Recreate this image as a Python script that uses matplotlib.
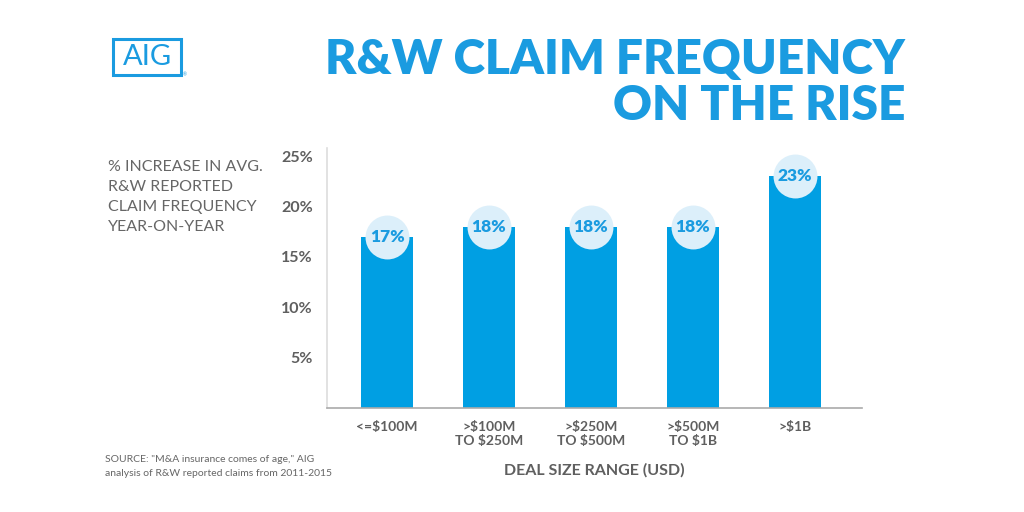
import matplotlib.pyplot as plt
from matplotlib.patches import Rectangle

plt.rcParams['font.family'] = ['Lato', 'DejaVu Sans']

categories = ['<=$100M', '>$100M\nTO $250M', '>$250M\nTO $500M', '>$500M\nTO $1B', '>$1B']
values = [17, 18, 18, 18, 23]
labels = ['17%', '18%', '18%', '18%', '23%']
yticks = [5, 10, 15, 20, 25]
ytick_labels = ['5%', '10%', '15%', '20%', '25%']

blue = '#009fe3'
title_blue = '#1a9be0'
light = '#dceffa'
gray = '#5f5f5f'

fig = plt.figure(figsize=(10.24, 5.12), dpi=100)
ax = fig.add_axes([0.3193, 0.2031, 0.5225, 0.5078])

x = list(range(len(categories)))
ax.bar(x, values, width=0.51, color=blue, zorder=2)

# circular value badges at bar tops
for xi, v, lab in zip(x, values, labels):
    ax.scatter([xi], [v], s=1000, color=light, zorder=3, linewidths=0, clip_on=False)
    ax.text(xi, v, lab, ha='center', va='center', fontsize=12.5,
            fontweight='heavy', color=title_blue, zorder=4)

ax.set_xlim(-0.59, 4.66)
ax.set_ylim(0, 25.8)
ax.set_yticks(yticks)
ax.set_yticklabels(ytick_labels)
ax.set_xticks(x)
ax.set_xticklabels(categories, linespacing=1.2)
ax.tick_params(length=0)
ax.tick_params(axis='y', pad=10, labelsize=11.5, labelcolor=gray)
ax.tick_params(axis='x', pad=9, labelsize=10, labelcolor=gray)
for lbl in ax.get_xticklabels() + ax.get_yticklabels():
    lbl.set_fontweight('bold')

for s in ['top', 'right']:
    ax.spines[s].set_visible(False)
ax.spines['left'].set_color('#dddddd')
ax.spines['bottom'].set_color('#aaaaaa')
ax.spines['left'].set_linewidth(1.2)
ax.spines['bottom'].set_linewidth(1.2)

ax.set_xlabel('DEAL SIZE RANGE (USD)', fontsize=11.5, fontweight='bold',
              color=gray, labelpad=12)

# title
fig.text(905 / 1024, 1 - 60 / 512, 'R&W CLAIM FREQUENCY', ha='right', va='center',
         fontsize=34.5, fontweight='heavy', color=title_blue)
fig.text(905 / 1024, 1 - 106 / 512, 'ON THE RISE', ha='right', va='center',
         fontsize=34.5, fontweight='heavy', color=title_blue)

# logo
fig.patches.append(Rectangle((113 / 1024, 1 - 75 / 512), 68 / 1024, 36 / 512,
                             transform=fig.transFigure, fill=False,
                             edgecolor=title_blue, linewidth=2.2))
fig.text(147 / 1024, 1 - 57 / 512, 'AIG', ha='center', va='center',
         fontsize=21, color=title_blue)
fig.text(185 / 1024, 1 - 75 / 512, '®', ha='center', va='center',
         fontsize=3.5, color=title_blue)

# side description
side = ['% INCREASE IN AVG.', 'R&W REPORTED', 'CLAIM FREQUENCY', 'YEAR-ON-YEAR']
for i, line in enumerate(side):
    fig.text(108 / 1024, 1 - (167 + 20 * i) / 512, line, ha='left', va='center',
             fontsize=11.5, color='#666666')

fig.text(105 / 1024, 1 - 460 / 512, 'SOURCE: "M&A insurance comes of age," AIG',
         ha='left', va='center', fontsize=7.5, color='#666666')
fig.text(105 / 1024, 1 - 474 / 512, 'analysis of R&W reported claims from 2011-2015',
         ha='left', va='center', fontsize=7.5, color='#666666')

fig.savefig('out.png', dpi=100)
